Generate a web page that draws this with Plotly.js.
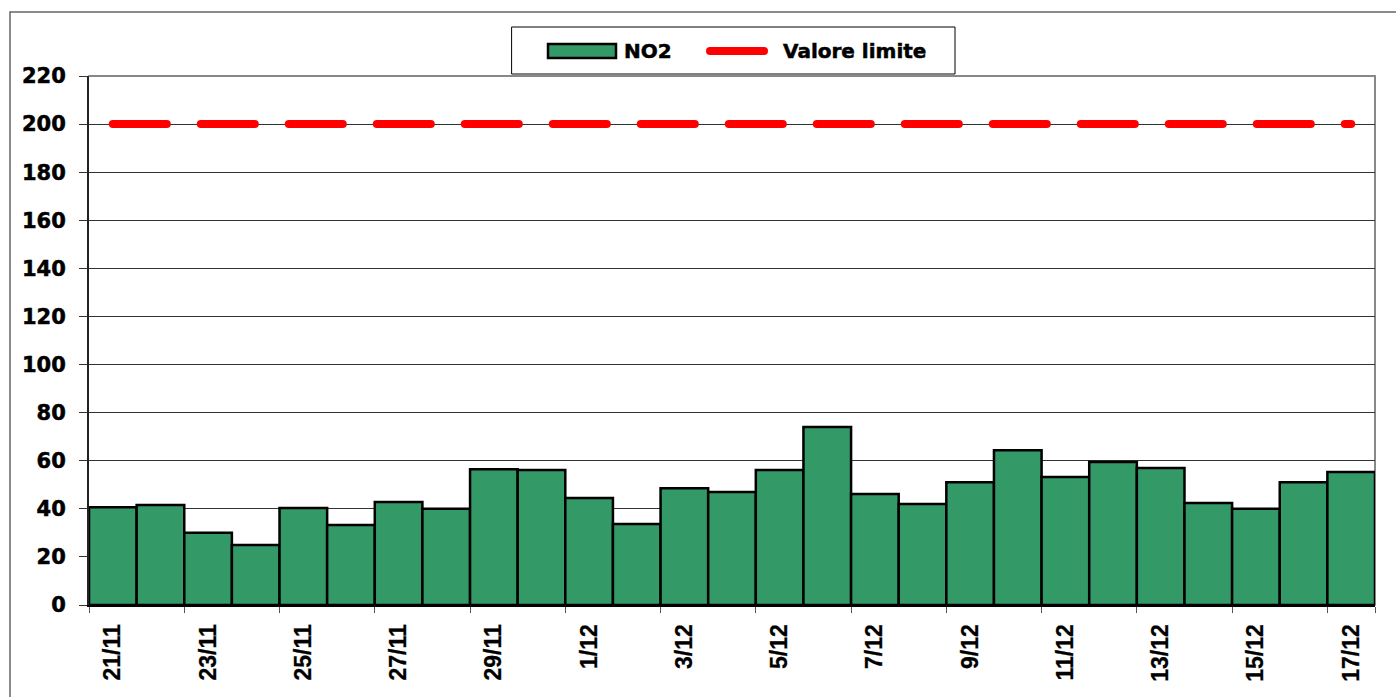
<!DOCTYPE html>
<html>
<head>
<meta charset="utf-8">
<script src="https://cdn.plot.ly/plotly-3.0.1.min.js"></script>
<style>
  html, body { margin: 0; padding: 0; background: #fff; }
  #chart { width: 1396px; height: 697px; }
  .scatterlayer .js-line { stroke-linecap: round; }
  .shapelayer path { stroke-linecap: round; }
  .ytick text, .annotation-text { stroke: #000; stroke-width: 0.5px; }
  .xtick text { stroke: #000; stroke-width: 0.3px; }
</style>
</head>
<body>
<div id="chart"></div>
<script>
// ---- data ----
const days = ["21/11","22/11","23/11","24/11","25/11","26/11","27/11","28/11","29/11","30/11",
              "1/12","2/12","3/12","4/12","5/12","6/12","7/12","8/12","9/12","10/12",
              "11/12","12/12","13/12","14/12","15/12","16/12","17/12"];
const no2 = [40.7, 41.6, 30.0, 25.0, 40.3, 33.3, 42.8, 40.0, 56.5, 56.1,
             44.5, 33.7, 48.6, 47.0, 56.1, 74.0, 46.2, 42.0, 51.1, 64.4,
             53.2, 59.5, 57.0, 42.4, 40.0, 51.1, 55.3];
const limitValue = 200;
const tickLabels = ["21/11","23/11","25/11","27/11","29/11","1/12","3/12","5/12","7/12",
                    "9/12","11/12","13/12","15/12","17/12"];
const legendNames = ["NO2", "Valore limite"];

// ---- layout helpers (pixel -> paper) ----
const W = 1396, H = 697;
const M = {l: 89, r: 21, t: 76, b: 92};
const PW = W - M.l - M.r, PH = H - M.t - M.b;
const px = x => (x - M.l) / PW;
const py = y => (H - M.b - y) / PH;

const barTrace = {
  type: 'bar', name: legendNames[0], x: days, y: no2,
  marker: {color: '#339966', line: {color: '#000', width: 2.5}},
  hoverinfo: 'x+y'
};
const limitTrace = {
  type: 'scatter', mode: 'lines', name: legendNames[1],
  x: [days[0], days[days.length - 1]], y: [limitValue, limitValue],
  line: {color: '#ff0000', width: 8, dash: '54px,34px'}
};

const tickFontY = {family: 'DejaVu Sans', size: 21, color: '#000', weight: 700};
const tickFontX = {family: 'Liberation Sans', size: 23, color: '#000', weight: 700};
const legFont = {family: 'DejaVu Sans', size: 20, color: '#000', weight: 700};

const layout = {
  width: W, height: H,
  margin: M,
  paper_bgcolor: '#fff', plot_bgcolor: '#fff',
  showlegend: false,
  bargap: 0,
  xaxis: {
    type: 'category', range: [-0.5, days.length - 0.5], fixedrange: true,
    tickmode: 'array', tickvals: tickLabels, ticktext: tickLabels,
    tickson: 'boundaries', ticks: 'outside', ticklen: 6, tickcolor: '#555', tickwidth: 1,
    tickangle: -90, tickfont: tickFontX, ticklabelstandoff: 8,
    showgrid: false, showline: true, linecolor: '#000', linewidth: 2, zeroline: false
  },
  yaxis: {
    range: [0, 220], dtick: 20, tick0: 0, fixedrange: true,
    ticks: 'outside', ticklen: 8, tickcolor: '#333', tickwidth: 1,
    tickfont: tickFontY, ticklabelstandoff: 9,
    showgrid: true, gridcolor: '#333', gridwidth: 1,
    showline: true, linecolor: '#222', linewidth: 2, zeroline: false
  },
  shapes: [
    // chart outer frame
    {type: 'rect', xref: 'paper', yref: 'paper', x0: px(10), x1: px(1410), y0: py(12), y1: py(710),
     line: {color: '#666', width: 1.5}, fillcolor: 'rgba(0,0,0,0)', layer: 'below'},
    // plot area top/right border
    {type: 'line', xref: 'paper', yref: 'paper', x0: 0, x1: 1, y0: 1, y1: 1,
     line: {color: '#888', width: 2}, layer: 'below'},
    {type: 'line', xref: 'paper', yref: 'paper', x0: 1, x1: 1, y0: 0, y1: 1,
     line: {color: '#888', width: 2}, layer: 'below'},
    // legend box
    {type: 'rect', xref: 'paper', yref: 'paper', x0: px(512), x1: px(955), y0: py(74), y1: py(27),
     line: {color: '#000', width: 1}, fillcolor: '#fff'},
    // legend bar patch
    {type: 'rect', xref: 'paper', yref: 'paper', x0: px(548), x1: px(616), y0: py(58), y1: py(44),
     line: {color: '#000', width: 2.5}, fillcolor: '#339966'},
    // legend line
    {type: 'line', xref: 'paper', yref: 'paper', x0: px(710), x1: px(764), y0: py(51), y1: py(51),
     line: {color: '#ff0000', width: 8}}
  ],
  annotations: [
    {xref: 'paper', yref: 'paper', x: px(622), y: py(51), xanchor: 'left', yanchor: 'middle',
     text: legendNames[0], showarrow: false, font: legFont},
    {xref: 'paper', yref: 'paper', x: px(781), y: py(51), xanchor: 'left', yanchor: 'middle',
     text: legendNames[1], showarrow: false, font: legFont}
  ]
};

Plotly.newPlot('chart', [barTrace, limitTrace], layout, {displayModeBar: false, staticPlot: true});
</script>
</body>
</html>
